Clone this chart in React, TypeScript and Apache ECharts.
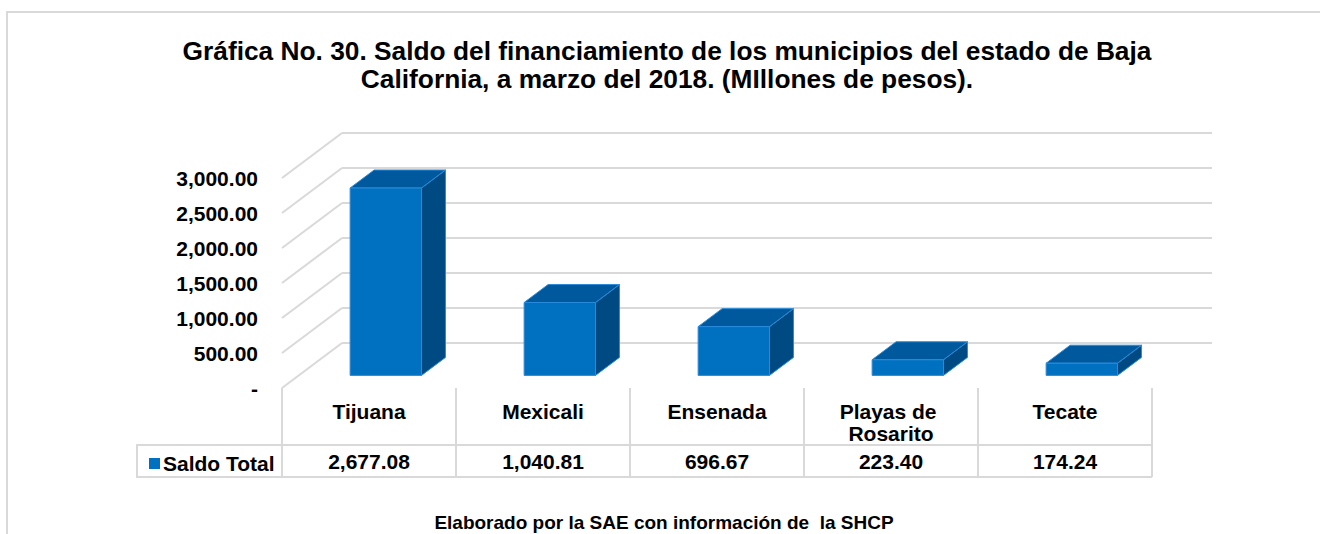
import React, { useEffect, useRef } from "react";
import * as echarts from "echarts";

const categories = ["Tijuana", "Mexicali", "Ensenada", "Playas de Rosarito", "Tecate"];
const saldoTotal = [2677.08, 1040.81, 696.67, 223.4, 174.24];
const yTicks = [0, 500, 1000, 1500, 2000, 2500, 3000];
const seriesName = "Saldo Total";
const titleText =
  "Gráfica No. 30. Saldo del financiamiento de los municipios del estado de Baja\nCalifornia, a marzo del 2018. (MIllones de pesos).";
const footerText = "Elaborado por la SAE con información de  la SHCP";

const FONT = "'Liberation Sans', Arial, sans-serif";
const GRID_COLOR = "#d9d9d9";
const DEPTH = [60, -45];
const D0 = 0.28;
const D1 = 0.68;

const fmt = (v: number) =>
  v.toLocaleString("en-US", { minimumFractionDigits: 2, maximumFractionDigits: 2 });

export default function App() {
  const ref = useRef<HTMLDivElement>(null);
  useEffect(() => {
    if (!ref.current) return;
    const chart = echarts.init(ref.current, null, { renderer: "svg" });
    const option: any = {
      animation: false,
      backgroundColor: "#ffffff",
      title: {
        text: titleText,
        left: 662,
        top: 32,
        textAlign: "center",
        textStyle: {
          fontFamily: FONT,
          fontWeight: "bold",
          fontSize: 26.3,
          lineHeight: 28,
          color: "#000",
        },
      },
      legend: {
        data: [seriesName],
        left: 144,
        top: 448,
        icon: "rect",
        itemWidth: 11,
        itemHeight: 11,
        itemGap: 4,
        textStyle: {
          fontFamily: FONT,
          fontWeight: "bold",
          fontSize: 21,
          color: "#000",
          padding: [0, 0, 0, -2],
        },
      },
      grid: [
        { left: 282, right: 168, top: 178, bottom: 146 },
        { left: 342, right: 108, top: 133, bottom: 191 },
      ],
      xAxis: [
        {
          type: "category",
          gridIndex: 0,
          data: categories,
          position: "bottom",
          axisLine: { show: false },
          axisTick: {
            show: true,
            length: 89,
            lineStyle: { color: GRID_COLOR, width: 2 },
          },
          axisLabel: {
            interval: 0,
            margin: 12,
            width: 160,
            overflow: "break",
            fontFamily: FONT,
            fontWeight: "bold",
            fontSize: 21,
            lineHeight: 22,
            color: "#000",
          },
        },
        {
          type: "category",
          gridIndex: 0,
          data: categories,
          position: "bottom",
          offset: 55,
          axisLine: { show: false },
          axisTick: { show: false },
          axisLabel: {
            interval: 0,
            margin: 7,
            formatter: (_v: string, i: number) => fmt(saldoTotal[i]),
            fontFamily: FONT,
            fontWeight: "bold",
            fontSize: 21,
            lineHeight: 22,
            color: "#000",
          },
        },
        {
          type: "value",
          gridIndex: 1,
          min: 0,
          max: 1,
          show: false,
        },
      ],
      yAxis: [
        {
          type: "value",
          gridIndex: 0,
          min: 0,
          max: 3000,
          interval: 500,
          axisLine: { show: false },
          axisTick: { show: false },
          splitLine: { show: false },
          axisLabel: {
            margin: 24,
            formatter: (v: number) => (v === 0 ? "-" : fmt(v)),
            fontFamily: FONT,
            fontWeight: "bold",
            fontSize: 21,
            color: "#000",
          },
        },
        {
          type: "value",
          gridIndex: 1,
          min: 0,
          max: 3000,
          interval: 500,
          axisLine: { show: false },
          axisTick: { show: false },
          axisLabel: { show: false },
          splitLine: { show: true, lineStyle: { color: GRID_COLOR, width: 2 } },
        },
      ],
      graphic: [
        {
          type: "rect",
          shape: { x: 7, y: 12, width: 1400, height: 600 },
          style: { fill: "none", stroke: GRID_COLOR, lineWidth: 2 },
          silent: true,
          z: -10,
        },
        {
          type: "line",
          shape: { x1: 137, y1: 445, x2: 1152, y2: 445 },
          style: { stroke: GRID_COLOR, lineWidth: 2 },
          silent: true,
        },
        {
          type: "line",
          shape: { x1: 137, y1: 477, x2: 1152, y2: 477 },
          style: { stroke: GRID_COLOR, lineWidth: 2 },
          silent: true,
        },
        {
          type: "line",
          shape: { x1: 137, y1: 444, x2: 137, y2: 478 },
          style: { stroke: GRID_COLOR, lineWidth: 2 },
          silent: true,
        },
        {
          type: "text",
          x: 664,
          y: 522,
          style: {
            text: footerText,
            fontFamily: FONT,
            fontWeight: "bold",
            fontSize: 19,
            fill: "#000",
            align: "center",
            verticalAlign: "middle",
          },
          silent: true,
        },
      ],
      series: [
        {
          type: "custom",
          name: "walls",
          xAxisIndex: 0,
          yAxisIndex: 0,
          silent: true,
          z: 1,
          data: yTicks.map((v) => [0, v]),
          renderItem: (params: any, api: any) => {
            const p = api.coord([0, api.value(1)]);
            const x0 = params.coordSys.x;
            return {
              type: "line",
              shape: { x1: x0, y1: p[1], x2: x0 + DEPTH[0], y2: p[1] + DEPTH[1] },
              style: { stroke: GRID_COLOR, lineWidth: 2 },
            };
          },
        },
        {
          type: "custom",
          name: seriesName,
          xAxisIndex: 0,
          yAxisIndex: 0,
          z: 5,
          itemStyle: { color: "#0070C0" },
          data: saldoTotal.map((v, i) => [i, v]),
          renderItem: (params: any, api: any) => {
            const i = api.value(0);
            const v = api.value(1);
            const top = api.coord([i, v]);
            const base = api.coord([i, 0]);
            const band = api.size([1, 0])[0];
            const w = band * 0.41;
            const dx0 = D0 * DEPTH[0];
            const dy0 = D0 * DEPTH[1];
            const dxs = (D1 - D0) * DEPTH[0];
            const dys = (D1 - D0) * DEPTH[1];
            const fl = top[0] - w / 2 + dx0;
            const fr = fl + w;
            const ft = top[1] + dy0;
            const fb = base[1] + dy0;
            const stroke = "#2A8BDA";
            return {
              type: "group",
              children: [
                {
                  type: "polygon",
                  shape: { points: [[fr, ft], [fr + dxs, ft + dys], [fr + dxs, fb + dys], [fr, fb]] },
                  style: { fill: "#004A84", stroke, lineWidth: 1 },
                },
                {
                  type: "polygon",
                  shape: { points: [[fl, ft], [fr, ft], [fr + dxs, ft + dys], [fl + dxs, ft + dys]] },
                  style: { fill: "#00599C", stroke, lineWidth: 1 },
                },
                {
                  type: "polygon",
                  shape: { points: [[fl, ft], [fr, ft], [fr, fb], [fl, fb]] },
                  style: { fill: "#0070C0", stroke, lineWidth: 1 },
                },
              ],
            };
          },
        },
      ],
    };
    chart.setOption(option);
    return () => chart.dispose();
  }, []);
  return (
    <div
      ref={ref}
      style={{ position: "absolute", left: 0, top: 0, width: 1320, height: 534 }}
    />
  );
}
